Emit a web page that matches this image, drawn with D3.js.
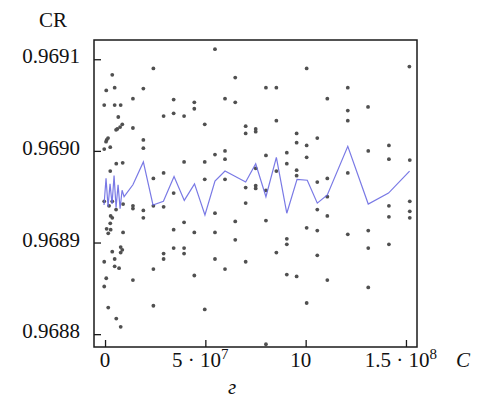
<!DOCTYPE html>
<html>
<head>
<meta charset="utf-8">
<script src="https://cdn.jsdelivr.net/npm/d3@7"></script>
<style>
  body { margin: 0; background: #fff; }
  svg text { font-family: 'Liberation Serif', 'DejaVu Serif', 'Times New Roman', Times, serif; fill: #111; }
</style>
</head>
<body>
<svg id="chart"></svg>
<script>
// C in units of 10^6, CR
var samples = [
  [24.1,0.969090],[3.6,0.969083],[0.6,0.969066],[4.8,0.969069],[19.1,0.969068],[13.9,0.969057],
  [34.2,0.969056],[44.5,0.969053],[44.5,0.969046],[-0.4,0.969050],[4.8,0.969050],[7.8,0.969050],
  [34.2,0.969041],[29.2,0.969038],[39.4,0.969038],[6.6,0.969037],[8.6,0.969029],[7.5,0.969026],
  [6.1,0.969024],[5.5,0.969023],[13.9,0.969025],[1.5,0.969014],[0.8,0.969012],[0.5,0.969010],
  [19.1,0.969012],[2.6,0.969004],[-0.4,0.969002],[19.1,0.969003],[5.6,0.968986],[8.8,0.968987],
  [39.4,0.968988],[2.6,0.968978],[24.1,0.968970],[29.2,0.968976],[49.7,0.968988],[54.8,0.969111],
  [100.5,0.969090],[64.9,0.969080],[80.2,0.969069],[85.4,0.969069],[59.8,0.969057],[64.9,0.969053],
  [85.4,0.969033],[49.7,0.969029],[70.1,0.969027],[70.1,0.969019],[75.1,0.969024],[75.1,0.969021],
  [95.5,0.969019],[95.5,0.969009],[100.5,0.969006],[59.8,0.969000],[54.8,0.968996],[59.8,0.968991],
  [100.5,0.968993],[80.2,0.968995],[90.6,0.968998],[90.6,0.968986],[75.1,0.968981],[85.4,0.968978],
  [95.5,0.968979],[95.5,0.968973],[49.7,0.968969],[59.8,0.968969],[70.1,0.968960],[75.1,0.968962],
  [75.1,0.968959],[80.2,0.968957],[151.7,0.969092],[121.0,0.969069],[110.8,0.969057],[121.0,0.969044],
  [131.1,0.969048],[121.0,0.969033],[105.8,0.969014],[131.2,0.969000],[141.5,0.969006],[141.5,0.968991],
  [151.9,0.968990],[121.0,0.968976],[105.8,0.968966],[110.8,0.968970],[34.2,0.968954],[-0.4,0.968945],
  [3.6,0.968945],[2.0,0.968940],[9.0,0.968942],[13.9,0.968940],[13.9,0.968937],[19.1,0.968935],
  [24.1,0.968940],[29.2,0.968939],[5.5,0.968936],[19.1,0.968927],[2.8,0.968929],[3.6,0.968927],
  [2.6,0.968921],[39.4,0.968922],[0.8,0.968915],[2.8,0.968914],[1.6,0.968910],[9.0,0.968911],
  [34.2,0.968914],[44.5,0.968911],[7.8,0.968895],[8.6,0.968892],[7.8,0.968889],[3.6,0.968890],
  [34.2,0.968894],[39.4,0.968894],[39.4,0.968888],[29.2,0.968888],[29.2,0.968882],[-0.4,0.968879],
  [4.8,0.968882],[4.8,0.968874],[7.0,0.968872],[24.1,0.968871],[44.5,0.968864],[0.6,0.968861],
  [13.9,0.968859],[-0.4,0.968852],[24.1,0.968831],[1.6,0.968829],[49.7,0.968827],[5.6,0.968817],
  [7.8,0.968808],[70.1,0.968943],[54.8,0.968932],[64.9,0.968923],[80.2,0.968924],[100.5,0.968916],
  [54.8,0.968911],[64.9,0.968903],[90.6,0.968904],[90.6,0.968898],[85.4,0.968889],[54.8,0.968882],
  [70.1,0.968879],[59.8,0.968871],[90.6,0.968865],[95.5,0.968863],[100.5,0.968834],[80.2,0.968789],
  [110.8,0.968950],[105.8,0.968936],[110.8,0.968929],[105.8,0.968913],[121.0,0.968909],[131.2,0.968913],
  [141.5,0.968940],[141.5,0.968928],[151.9,0.968945],[151.9,0.968934],[151.9,0.968927],[131.2,0.968894],
  [141.5,0.968898],[105.8,0.968886],[110.8,0.968859],[131.2,0.968851]
];

var meanLine = [
  [-0.5,0.968941],[0.5,0.968970],[1.5,0.968939],[2.5,0.968964],[3.5,0.968942],[4.5,0.968973],
  [5.5,0.968938],[6.5,0.968963],[7.5,0.968937],[8.5,0.968957],[9.5,0.968950],[13.9,0.968963],
  [19.1,0.968988],[23.9,0.968941],[29.1,0.968945],[34.4,0.968972],[39.5,0.968946],[44.6,0.968964],
  [49.8,0.968930],[54.8,0.968967],[59.8,0.968978],[70.1,0.968966],[75.1,0.968986],[80.2,0.968950],
  [85.4,0.968993],[90.6,0.968932],[95.7,0.968969],[100.8,0.968968],[105.8,0.968943],[110.8,0.968952],
  [121.0,0.969005],[131.2,0.968942],[141.3,0.968954],[151.8,0.968978]
];

var yTicks = [0.9688, 0.9689, 0.9690, 0.9691];
var xTicks = [0, 50, 100, 150];
var xTickLabels = [['0', ''], ['5 · 10', '7'], ['10', ''], ['1.5 · 10', '8']];

var width = 485, height = 410;
var plot = { left: 94, right: 417, top: 40, bottom: 347 };
var serif = "'Liberation Serif', 'DejaVu Serif', 'Times New Roman', Times, serif";

var svg = d3.select('#chart')
    .attr('width', width)
    .attr('height', height)
    .attr('font-family', serif);

var x = d3.scaleLinear()
    .domain([-5.5, 155.5])
    .range([plot.left, plot.right]);

var y = d3.scaleLinear()
    .domain([0.968786, 0.969121])
    .range([plot.bottom, plot.top]);

// points
svg.append('g')
    .selectAll('circle')
    .data(samples)
    .enter().append('circle')
    .attr('cx', function (d) { return x(d[0]); })
    .attr('cy', function (d) { return y(d[1]); })
    .attr('r', 1.9)
    .attr('fill', '#505050');

// mean line
var line = d3.line()
    .x(function (d) { return x(d[0]); })
    .y(function (d) { return y(d[1]); });

svg.append('path')
    .datum(meanLine)
    .attr('d', line)
    .attr('fill', 'none')
    .attr('stroke', '#6a6ae2')
    .attr('stroke-opacity', 0.9)
    .attr('stroke-width', 1.2);

// frame
svg.append('rect')
    .attr('x', plot.left)
    .attr('y', plot.top)
    .attr('width', plot.right - plot.left)
    .attr('height', plot.bottom - plot.top)
    .attr('fill', 'none')
    .attr('stroke', '#1a1a1a')
    .attr('stroke-width', 1.5);

// y ticks (inward)
var yAxis = d3.axisRight(y)
    .tickValues(yTicks)
    .tickSize(7)
    .tickFormat('');

svg.append('g')
    .attr('transform', 'translate(' + plot.left + ',0)')
    .call(yAxis)
    .call(function (g) {
        g.select('.domain').remove();
        g.selectAll('line').attr('stroke', '#1a1a1a').attr('stroke-width', 1.3);
    });

svg.append('g')
    .selectAll('text')
    .data(yTicks)
    .enter().append('text')
    .attr('x', 80)
    .attr('y', function (d) { return y(d) + 4; })
    .attr('text-anchor', 'end')
    .style('font-size', '21px')
    .text(function (d) { return d.toFixed(4); });

// x ticks (inward)
var xAxis = d3.axisTop(x)
    .tickValues(xTicks)
    .tickSize(7)
    .tickFormat('');

svg.append('g')
    .attr('transform', 'translate(0,' + plot.bottom + ')')
    .call(xAxis)
    .call(function (g) {
        g.select('.domain').remove();
        g.selectAll('line').attr('stroke', '#1a1a1a').attr('stroke-width', 1.3);
    });

var xLabels = svg.append('g')
    .selectAll('text')
    .data(xTicks)
    .enter().append('text')
    .attr('x', function (d, i) { return x(d) + (i === 0 ? 0 : -5); })
    .attr('y', 367)
    .attr('text-anchor', 'middle')
    .style('font-size', '21px');

xLabels.append('tspan')
    .text(function (d, i) { return xTickLabels[i][0]; });

xLabels.append('tspan')
    .attr('dy', -8)
    .style('font-size', '15px')
    .text(function (d, i) { return xTickLabels[i][1]; });

// axis names
svg.append('text')
    .attr('x', 53)
    .attr('y', 27)
    .attr('text-anchor', 'middle')
    .style('font-size', '21px')
    .text('CR');

svg.append('text')
    .attr('x', 456)
    .attr('y', 367)
    .style('font-size', '21px')
    .style('font-style', 'italic')
    .text('C');

svg.append('text')
    .attr('x', 232)
    .attr('y', 394)
    .attr('text-anchor', 'middle')
    .style('font-size', '21px')
    .style('font-style', 'italic')
    .text('г');
</script>
</body>
</html>
